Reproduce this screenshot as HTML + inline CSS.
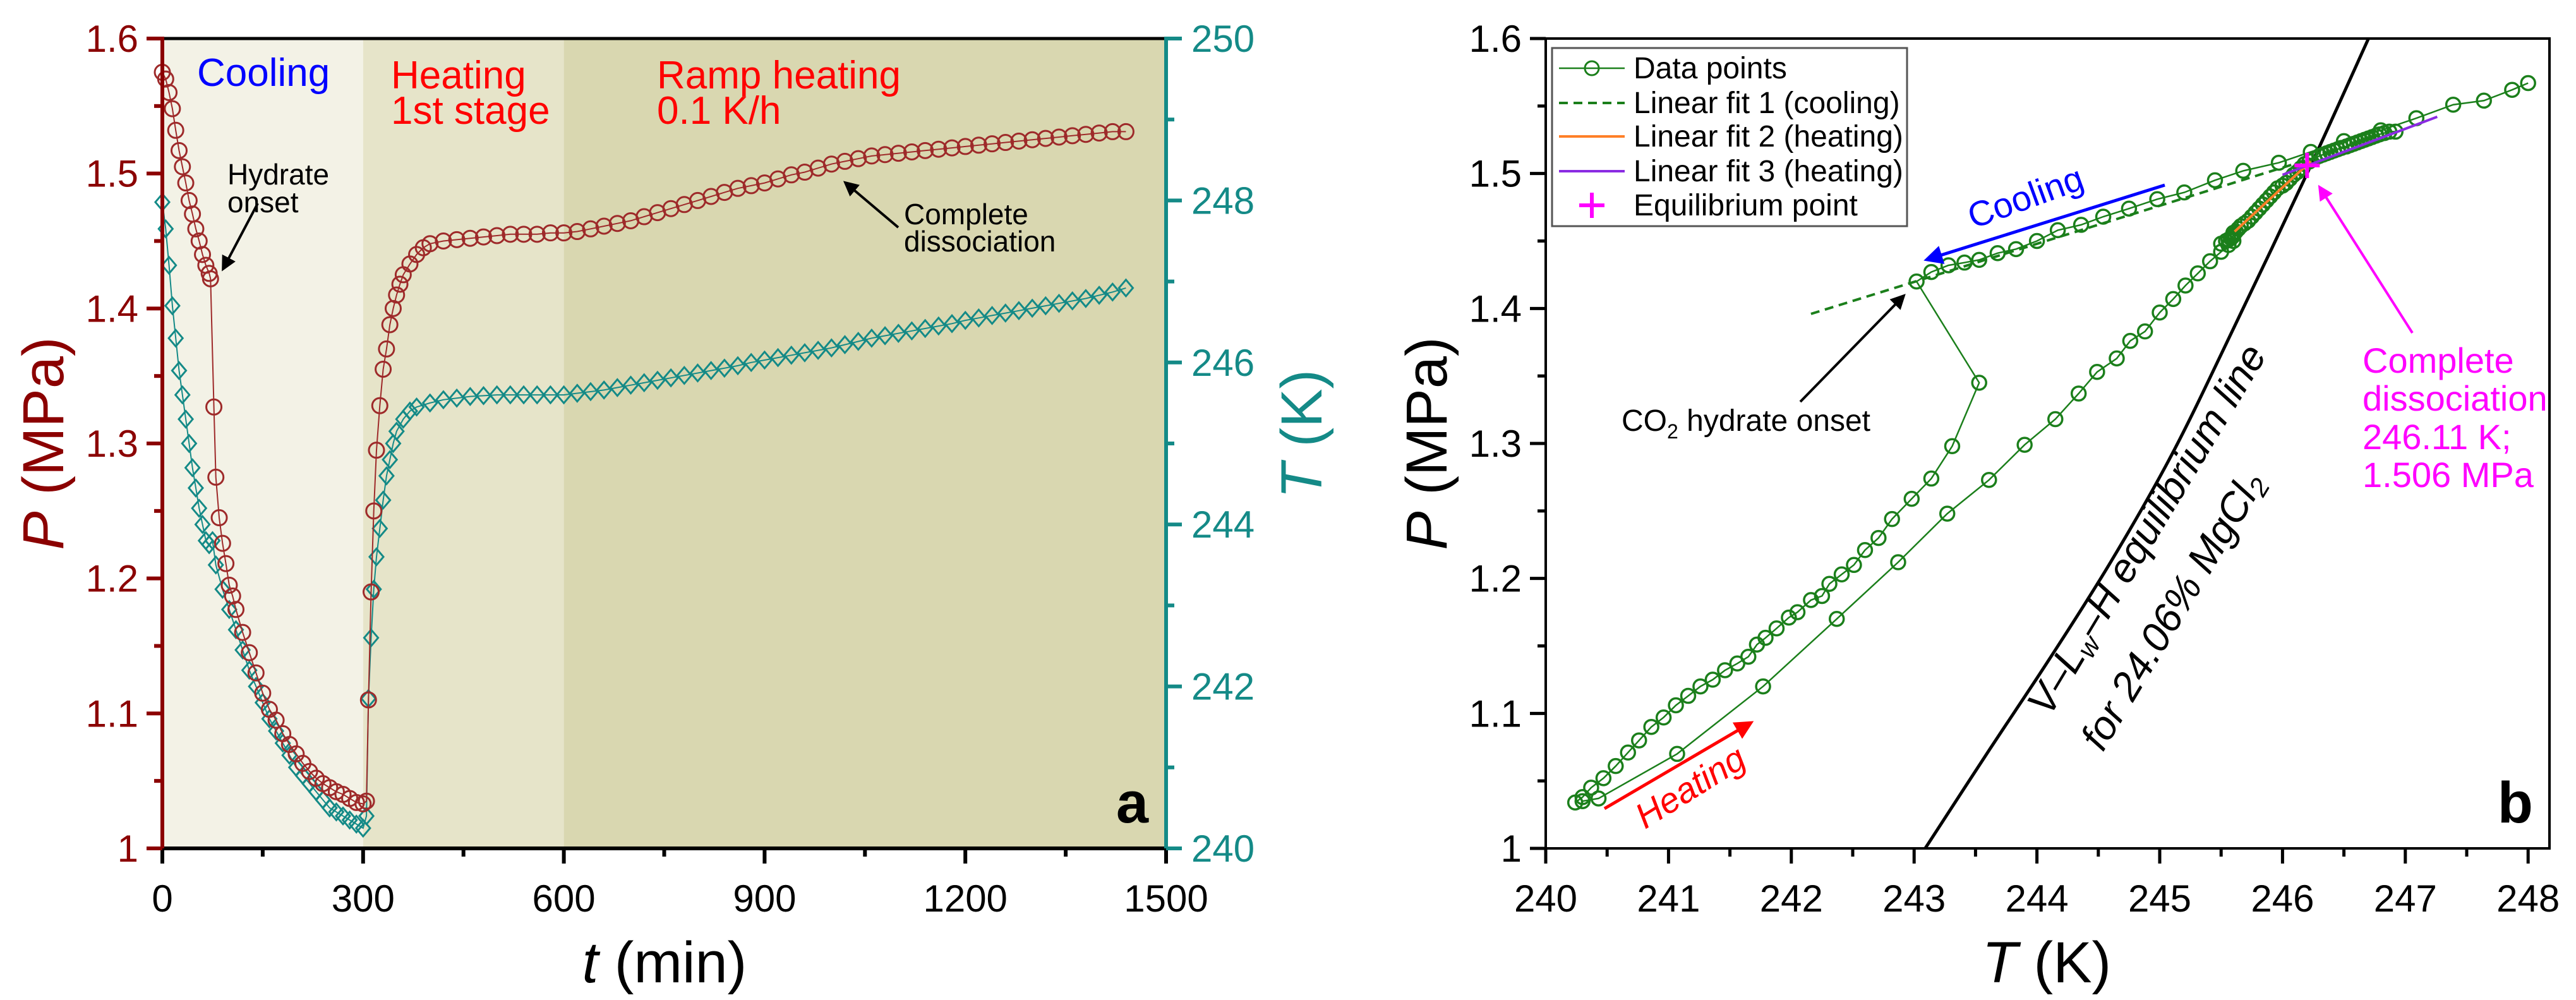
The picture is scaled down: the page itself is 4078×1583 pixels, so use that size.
<!DOCTYPE html>
<html><head><meta charset="utf-8"><style>
html,body{margin:0;padding:0;background:#fff;}
svg{display:block;font-family:"Liberation Sans",Arial,sans-serif;}
</style></head><body>
<svg id="fig" width="4078" height="1583" viewBox="0 0 4078 1583" xmlns="http://www.w3.org/2000/svg">
<defs>
<marker id="ahK" markerWidth="6" markerHeight="6" refX="5" refY="3" orient="auto" markerUnits="strokeWidth"><path d="M0,0 L6,3 L0,6 z" fill="#000"/></marker>
<marker id="ahB" markerWidth="6" markerHeight="6" refX="5" refY="3" orient="auto" markerUnits="strokeWidth"><path d="M0,0 L6,3 L0,6 z" fill="#0000ff"/></marker>
<marker id="ahR" markerWidth="6" markerHeight="6" refX="5" refY="3" orient="auto" markerUnits="strokeWidth"><path d="M0,0 L6,3 L0,6 z" fill="#ff0000"/></marker>
<marker id="ahM" markerWidth="6" markerHeight="6" refX="5" refY="3" orient="auto" markerUnits="strokeWidth"><path d="M0,0 L6,3 L0,6 z" fill="#ff00ff"/></marker>
</defs>
<g id="panelA"></g>
<g id="panelB"></g>
</svg>
<script>
// ---------- Panel a data ----------
const phaseNames = ["Cooling", "Heating 1st stage", "Ramp heating"];
const phaseStarts = [0, 300, 600];
const phaseEnds = [300, 600, 1500];
const pTimes = [0,5,10,15,20,25,30,35,40,45,50,55,60,65,70,72,77,80,85,90,95,100,105,110,120,130,140,150,160,170,180,190,200,210,220,230,240,250,260,270,280,290,300,305,308,312,316,320,325,330,335,340,345,350,355,360,370,380,390,
400,420,440,460,480,500,520,540,560,580,600,620,640,660,680,700,720,740,760,780,800,820,840,860,880,900,920,940,960,980,1000,1020,1040,1060,1080,1100,1120,1140,1160,1180,1200,1220,1240,1260,1280,1300,1320,1340,1360,1380,1400,1420,1440];
const pValues = [1.575,1.57,1.56,1.548,1.532,1.517,1.505,1.493,1.48,1.47,1.459,1.45,1.44,1.432,1.426,1.422,1.327,1.275,1.245,1.226,1.211,1.195,1.187,1.177,1.16,1.145,1.13,1.115,1.103,1.095,1.085,1.077,1.07,1.063,1.057,1.052,1.048,1.045,1.042,1.04,1.037,1.034,1.033,1.035,1.11,1.19,1.25,1.295,1.328,1.355,1.37,1.388,1.4,1.41,1.418,1.425,1.433,1.44,1.445,
1.448,1.45,1.451,1.452,1.453,1.454,1.455,1.455,1.455,1.456,1.456,1.457,1.459,1.461,1.463,1.465,1.468,1.471,1.474,1.477,1.48,1.483,1.486,1.489,1.491,1.493,1.496,1.499,1.501,1.504,1.507,1.509,1.511,1.513,1.514,1.515,1.516,1.517,1.518,1.519,1.52,1.521,1.522,1.523,1.524,1.525,1.526,1.527,1.528,1.529,1.53,1.531,1.531];
const tTimes = [0,5,10,15,20,25,30,35,40,45,50,55,60,65,70,75,80,90,100,110,120,130,140,150,160,170,180,190,200,210,220,230,240,250,260,270,280,290,300,305,308,312,316,320,325,330,335,340,345,350,360,370,380,
400,420,440,460,480,500,520,540,560,580,600,620,640,660,680,700,720,740,760,780,800,820,840,860,880,900,920,940,960,980,1000,1020,1040,1060,1080,1100,1120,1140,1160,1180,1200,1220,1240,1260,1280,1300,1320,1340,1360,1380,1400,1420,1440];
const tValues = [247.98,247.65,247.2,246.7,246.3,245.9,245.6,245.3,245.0,244.7,244.45,244.2,244.0,243.8,243.75,243.8,243.5,243.2,242.95,242.7,242.45,242.2,242.0,241.8,241.6,241.45,241.3,241.15,241.0,240.9,240.8,240.7,240.6,240.5,240.45,240.4,240.35,240.3,240.25,240.4,241.85,242.6,243.2,243.6,243.95,244.3,244.6,244.8,245.0,245.15,245.3,245.4,245.45,
245.5,245.54,245.56,245.58,245.59,245.6,245.6,245.6,245.6,245.6,245.6,245.62,245.64,245.66,245.69,245.72,245.75,245.78,245.81,245.84,245.87,245.9,245.93,245.96,246.0,246.03,246.06,246.09,246.12,246.15,246.18,246.22,246.26,246.3,246.33,246.36,246.39,246.42,246.45,246.48,246.52,246.55,246.58,246.61,246.64,246.67,246.7,246.73,246.76,246.79,246.83,246.87,246.92];
const aXTicks = [0,300,600,900,1200,1500];
const aPTicks = [1,1.1,1.2,1.3,1.4,1.5,1.6];
const aPTickLabels = ["1","1.1","1.2","1.3","1.4","1.5","1.6"];
const aTTicks = [240,242,244,246,248,250];

// ---------- Panel b data ----------
const coolT = [248.0,247.87,247.64,247.39,247.09,246.8,246.5,246.23,245.97,245.68,245.45,245.2,244.98,244.75,244.54,244.36,244.17,244.0,243.83,243.68,243.53,243.41,243.28,243.14,243.02,243.53,243.31,243.14,242.98,242.82,242.71,242.6,242.51,242.41,242.31,242.25,242.16,242.05,241.98,241.88,241.79,241.72,241.65,241.56,241.46,241.36,241.26,241.16,241.06,240.96,240.86,240.76,240.67,240.57,240.47,240.37,240.3,240.24];
const coolP = [1.567,1.562,1.554,1.551,1.541,1.532,1.524,1.516,1.508,1.502,1.495,1.486,1.481,1.474,1.468,1.462,1.458,1.45,1.444,1.441,1.436,1.434,1.432,1.427,1.42,1.345,1.298,1.274,1.259,1.244,1.23,1.221,1.21,1.203,1.196,1.187,1.184,1.175,1.171,1.163,1.156,1.151,1.142,1.137,1.132,1.125,1.12,1.113,1.106,1.097,1.09,1.08,1.071,1.061,1.052,1.045,1.038,1.034];
const heatT = [240.3,240.43,241.07,241.77,242.37,242.87,243.27,243.61,243.9,244.15,244.34,244.49,244.65,244.76,244.88,245.0,245.11,245.21,245.31,245.41,245.5,245.56,245.6];
const heatP = [1.035,1.037,1.07,1.12,1.17,1.212,1.248,1.273,1.299,1.318,1.337,1.353,1.363,1.376,1.383,1.397,1.407,1.417,1.426,1.435,1.442,1.447,1.45];
const eqLineT = [243.09,243.62,244.1,244.6,245.1,245.6,246.2,246.7];
const eqLineP = [1.0,1.074,1.14,1.212,1.292,1.385,1.5,1.6];
const fit1T = [242.16,246.2]; const fit1P = [1.396,1.51];
const fit2T = [245.61,246.23]; const fit2P = [1.457,1.509];
const fit3T = [246.0,247.26]; const fit3P = [1.499,1.542];
const eqPointT = [246.2]; const eqPointP = [1.506];
const bXTicks = [240,241,242,243,244,245,246,247,248];
const bYTicks = [1,1.1,1.2,1.3,1.4,1.5,1.6];
const bYTickLabels = ["1","1.1","1.2","1.3","1.4","1.5","1.6"];

const NS = "http://www.w3.org/2000/svg";
function mk(parent, tag, attrs, text){
  const e = document.createElementNS(NS, tag);
  for (const k in attrs) e.setAttribute(k, attrs[k]);
  if (text !== undefined) e.textContent = text;
  parent.appendChild(e);
  return e;
}
function smoothPath(pts){
  let d = 'M'+pts[0][0].toFixed(1)+','+pts[0][1].toFixed(1);
  for(let i=0;i<pts.length-1;i++){
    const p0=pts[Math.max(0,i-1)], p1=pts[i], p2=pts[i+1], p3=pts[Math.min(pts.length-1,i+2)];
    const c1=[p1[0]+(p2[0]-p0[0])/6, p1[1]+(p2[1]-p0[1])/6];
    const c2=[p2[0]-(p3[0]-p1[0])/6, p2[1]-(p3[1]-p1[1])/6];
    d += ` C${c1[0].toFixed(1)},${c1[1].toFixed(1)} ${c2[0].toFixed(1)},${c2[1].toFixed(1)} ${p2[0].toFixed(1)},${p2[1].toFixed(1)}`;
  }
  return d;
}

// ===== Panel A =====
const A = document.getElementById('panelA');
const aL=257, aR=1846, aT=61, aB=1343;
const ax = t => aL + (t-0)/1500*(aR-aL);
const ayP = p => aB - (p-1)/0.6*(aB-aT);
const ayT = k => aB - (k-240)/10*(aB-aT);
const bgCols = ["#f3f2e6","#e6e4c9","#d9d7b0"];
phaseNames.forEach((n,i)=>{
  const r = mk(A,'rect',{x:ax(phaseStarts[i]),y:aT,width:ax(phaseEnds[i])-ax(phaseStarts[i]),height:aB-aT,fill:bgCols[i]});
  
  
});
{
  let d = tTimes.map((t,i)=>(i?'L':'M')+ax(t).toFixed(1)+','+ayT(tValues[i]).toFixed(1)).join(' ');
  const l = mk(A,'path',{d:d,fill:'none',stroke:'#148a87','stroke-width':2});
  
  
  tTimes.forEach((t,i)=>{
    const x=ax(t), y=ayT(tValues[i]), s=13;
    const m = mk(A,'path',{d:`M${x},${y-s} L${x+s*0.85},${y} L${x},${y+s} L${x-s*0.85},${y} Z`,fill:'none',stroke:'#148a87','stroke-width':3});
    
    
  });
}
{
  let d = pTimes.map((t,i)=>(i?'L':'M')+ax(t).toFixed(1)+','+ayP(pValues[i]).toFixed(1)).join(' ');
  const l = mk(A,'path',{d:d,fill:'none',stroke:'#9e2a2a','stroke-width':2});
  
  
  pTimes.forEach((t,i)=>{
    const c = mk(A,'circle',{cx:ax(t),cy:ayP(pValues[i]),r:12,fill:'none',stroke:'#9e2a2a','stroke-width':3});
    
    
  });
}
mk(A,'line',{x1:aL,y1:aT,x2:aR,y2:aT,stroke:'#000','stroke-width':5});
mk(A,'line',{x1:aL,y1:aB,x2:aR,y2:aB,stroke:'#000','stroke-width':6});
mk(A,'line',{x1:aL,y1:aT-3,x2:aL,y2:aB+3,stroke:'#8b0000','stroke-width':6});
mk(A,'line',{x1:aR,y1:aT-3,x2:aR,y2:aB+3,stroke:'#148a87','stroke-width':6});
aXTicks.forEach((t,i)=>{
  mk(A,'line',{x1:ax(t),y1:aB,x2:ax(t),y2:aB+24,stroke:'#000','stroke-width':6});
  if(i<aXTicks.length-1) mk(A,'line',{x1:ax(t+150),y1:aB,x2:ax(t+150),y2:aB+13,stroke:'#000','stroke-width':6});
  const tx = mk(A,'text',{x:ax(t),y:aB+100,'font-size':60,'text-anchor':'middle',fill:'#000'},String(t));
  
  
});
aPTicks.forEach((p,i)=>{
  mk(A,'line',{x1:aL-25,y1:ayP(p),x2:aL,y2:ayP(p),stroke:'#8b0000','stroke-width':6});
  if(i<aPTicks.length-1) mk(A,'line',{x1:aL-13,y1:ayP(p+0.05),x2:aL,y2:ayP(p+0.05),stroke:'#8b0000','stroke-width':6});
  const tx = mk(A,'text',{x:aL-38,y:ayP(p)+21,'font-size':60,'text-anchor':'end',fill:'#8b0000'},aPTickLabels[i]);
  
  
});
aTTicks.forEach((k,i)=>{
  mk(A,'line',{x1:aR,y1:ayT(k),x2:aR+25,y2:ayT(k),stroke:'#148a87','stroke-width':6});
  if(i<aTTicks.length-1) mk(A,'line',{x1:aR,y1:ayT(k+1),x2:aR+13,y2:ayT(k+1),stroke:'#148a87','stroke-width':6});
  const tx = mk(A,'text',{x:aR+40,y:ayT(k)+21,'font-size':60,'text-anchor':'start',fill:'#148a87'},String(k));
  
  
});
</script>
<script>
(function(){
const A = document.getElementById('panelA');
A.insertAdjacentHTML('beforeend', `
<text x="1052" y="1555" font-size="92" text-anchor="middle" fill="#000"><tspan font-style="italic">t</tspan> (min)</text>
<text transform="translate(100,702) rotate(-90)" font-size="92" text-anchor="middle" fill="#8b0000"><tspan font-style="italic">P</tspan> (MPa)</text>
<text transform="translate(2092,687) rotate(-90)" font-size="92" text-anchor="middle" fill="#148a87"><tspan font-style="italic">T</tspan> (K)</text>
<text x="312" y="136" font-size="62" fill="#0000ff">Cooling</text>
<text x="619" y="140" font-size="62" fill="#ff0000">Heating</text>
<text x="619" y="196" font-size="62" fill="#ff0000">1st stage</text>
<text x="1040" y="140" font-size="62" fill="#ff0000">Ramp heating</text>
<text x="1040" y="196" font-size="62" fill="#ff0000">0.1 K/h</text>
<text x="360" y="292" font-size="46" fill="#000">Hydrate</text>
<text x="360" y="336" font-size="46" fill="#000">onset</text>
<line x1="408" y1="322" x2="353" y2="426" stroke="#000" stroke-width="4" marker-end="url(#ahK)"/>
<text x="1431" y="355" font-size="46" fill="#000">Complete</text>
<text x="1431" y="398" font-size="46" fill="#000">dissociation</text>
<line x1="1422" y1="360" x2="1338" y2="289" stroke="#000" stroke-width="4" marker-end="url(#ahK)"/>
<text x="1818" y="1302" font-size="92" font-weight="bold" text-anchor="end" fill="#000">a</text>
`);
})();
</script>
<script>
// ===== Panel B =====
const B = document.getElementById('panelB');
const bL=2447, bR=4036, bT=61, bB=1343;
const bx = k => bL + (k-240)*194.4;
const by = p => bB - (p-1)/0.6*(bB-bT);
const G = '#1b7f1b';
mk(B,'rect',{x:bL,y:bT,width:bR-bL,height:bB-bT,fill:'#fff',stroke:'#000','stroke-width':4});
{
  const pts = eqLineT.map((t,i)=>[bx(t), by(eqLineP[i])]);
  const l = mk(B,'path',{d:smoothPath(pts),fill:'none',stroke:'#000','stroke-width':5});
  
  
}
function series(T,P,name){
  let d = T.map((t,i)=>(i?'L':'M')+bx(t).toFixed(1)+','+by(P[i]).toFixed(1)).join(' ');
  const l = mk(B,'path',{d:d,fill:'none',stroke:G,'stroke-width':2.5});
  
  
  T.forEach((t,i)=>{
    const c = mk(B,'circle',{cx:bx(t),cy:by(P[i]),r:11,fill:'none',stroke:G,'stroke-width':3.5});
    
    
  });
}
series(coolT,coolP,'cooling-data');
series(heatT,heatP,'heating-data');
{
  const rT=[], rP=[];
  tTimes.forEach((t,i)=>{ if(t>=400){ const j=pTimes.indexOf(t); if(j>=0){ rT.push(tValues[i]); rP.push(pValues[j]); } } });
  series(rT,rP,'ramp-data');
}
function fit(T,P,col,dash,name){
  const l = mk(B,'line',{x1:bx(T[0]),y1:by(P[0]),x2:bx(T[1]),y2:by(P[1]),stroke:col,'stroke-width':4,'stroke-dasharray':dash||'none'});
  
  
}
fit(fit1T,fit1P,'#1b7f1b','14,9','linear-fit-1');
fit(fit2T,fit2P,'#ff7f27',null,'linear-fit-2');
fit(fit3T,fit3P,'#8a2be2',null,'linear-fit-3');
{
  const x=bx(eqPointT[0]), y=by(eqPointP[0]);
  const p = mk(B,'path',{d:`M${x-20},${y} L${x+20},${y} M${x},${y-20} L${x},${y+20}`,stroke:'#ff00ff','stroke-width':6});
  
  
}
bXTicks.forEach((k,i)=>{
  mk(B,'line',{x1:bx(k),y1:bB,x2:bx(k),y2:bB+24,stroke:'#000','stroke-width':5});
  if(i<bXTicks.length-1) mk(B,'line',{x1:bx(k+0.5),y1:bB,x2:bx(k+0.5),y2:bB+13,stroke:'#000','stroke-width':5});
  const tx = mk(B,'text',{x:bx(k),y:bB+100,'font-size':60,'text-anchor':'middle',fill:'#000'},String(k));
  
  
});
bYTicks.forEach((p,i)=>{
  mk(B,'line',{x1:bL-25,y1:by(p),x2:bL,y2:by(p),stroke:'#000','stroke-width':5});
  if(i<bYTicks.length-1) mk(B,'line',{x1:bL-13,y1:by(p+0.05),x2:bL,y2:by(p+0.05),stroke:'#000','stroke-width':5});
  const tx = mk(B,'text',{x:bL-38,y:by(p)+21,'font-size':60,'text-anchor':'end',fill:'#000'},bYTickLabels[i]);
  
  
});
B.insertAdjacentHTML('beforeend', `
<text x="3240" y="1555" font-size="92" text-anchor="middle" fill="#000"><tspan font-style="italic">T</tspan> (K)</text>
<text transform="translate(2290,702) rotate(-90)" font-size="92" text-anchor="middle" fill="#000"><tspan font-style="italic">P</tspan> (MPa)</text>
<g>
<rect x="2457" y="76" width="562" height="282" fill="#fff" stroke="#555" stroke-width="3"/>
<line x1="2468" y1="108" x2="2572" y2="108" stroke="${G}" stroke-width="2.5"/><circle cx="2520" cy="108" r="11" fill="none" stroke="${G}" stroke-width="3"/>
<text x="2586" y="124" font-size="48" fill="#000">Data points</text>
<line x1="2468" y1="163" x2="2572" y2="163" stroke="${G}" stroke-width="4" stroke-dasharray="14,9"/>
<text x="2586" y="179" font-size="48" fill="#000">Linear fit 1 (cooling)</text>
<line x1="2468" y1="216" x2="2572" y2="216" stroke="#ff7f27" stroke-width="4"/>
<text x="2586" y="232" font-size="48" fill="#000">Linear fit 2 (heating)</text>
<line x1="2468" y1="271" x2="2572" y2="271" stroke="#8a2be2" stroke-width="4"/>
<text x="2586" y="287" font-size="48" fill="#000">Linear fit 3 (heating)</text>
<path d="M2500,325 L2540,325 M2520,305 L2520,345" stroke="#ff00ff" stroke-width="6"/>
<text x="2586" y="341" font-size="48" fill="#000">Equilibrium point</text>
</g>
<text transform="translate(3213,330) rotate(-20)" font-size="56" text-anchor="middle" fill="#0000ff">Cooling</text>
<line x1="3427" y1="293" x2="3050" y2="411" stroke="#0000ff" stroke-width="5" marker-end="url(#ahB)"/>
<text transform="translate(2686,1262) rotate(-32)" font-size="56" text-anchor="middle" fill="#ff0000" font-style="italic">Heating</text>
<line x1="2540" y1="1280" x2="2772" y2="1144" stroke="#ff0000" stroke-width="5" marker-end="url(#ahR)"/>
<text x="2567" y="682" font-size="48" fill="#000">CO<tspan font-size="32" dy="12">2</tspan><tspan dy="-12"> hydrate onset</tspan></text>
<line x1="2850" y1="636" x2="3014" y2="468" stroke="#000" stroke-width="4" marker-end="url(#ahK)"/>
<g font-size="56" fill="#ff00ff">
<text x="3740" y="590">Complete</text>
<text x="3740" y="650">dissociation</text>
<text x="3740" y="711">246.11 K;</text>
<text x="3740" y="771">1.506 MPa</text>
</g>
<line x1="3819" y1="527" x2="3672" y2="296" stroke="#ff00ff" stroke-width="4" marker-end="url(#ahM)"/>
<g transform="translate(3398,838) rotate(-59)" font-size="64" text-anchor="middle" fill="#000" font-style="italic">
<text x="0" y="22">V–L<tspan font-size="42" dy="10">w</tspan><tspan dy="-10">–H equilibrium line</tspan></text>
<text x="-89" y="123">for 24.06% MgCl<tspan font-size="42" dy="10">2</tspan></text>
</g>
<text x="4010" y="1302" font-size="92" font-weight="bold" text-anchor="end" fill="#000">b</text>
`);
</script>
</body></html>
